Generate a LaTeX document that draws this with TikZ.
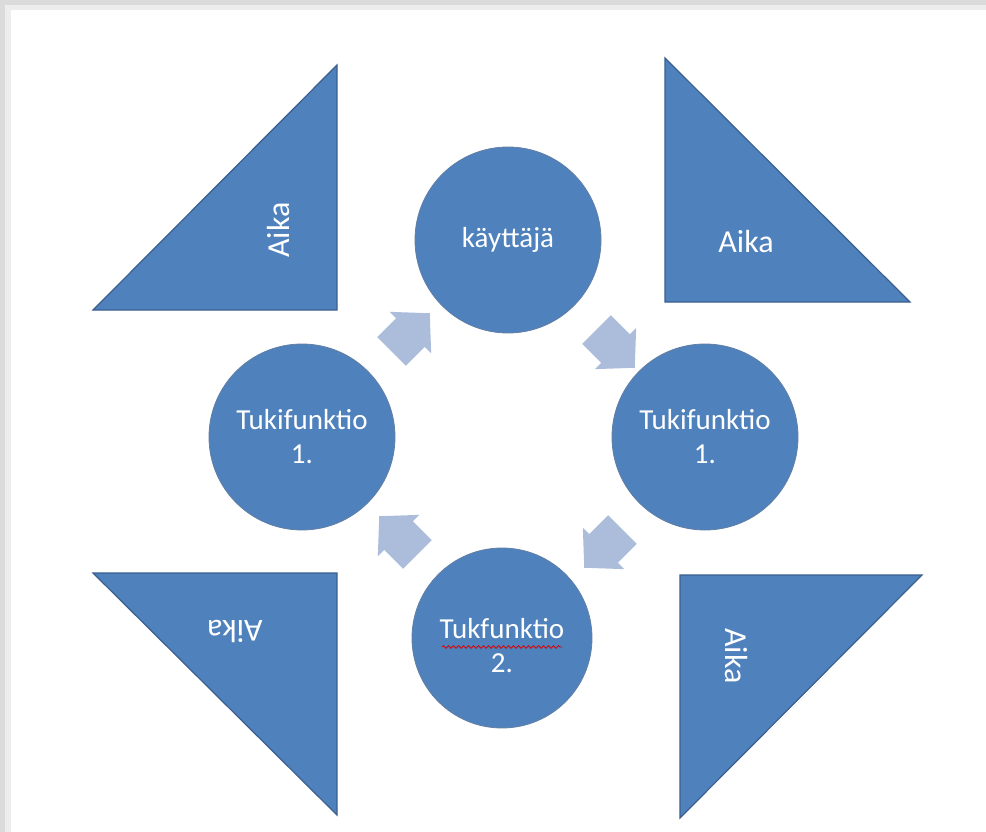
\documentclass[tikz,border=0pt]{standalone}
\usepackage{fontspec}
\setmainfont{Carlito}
\usetikzlibrary{shapes.arrows,decorations.pathmorphing}
\definecolor{cyclefill}{RGB}{79,129,189}
\definecolor{cycleline}{RGB}{58,95,142}
\definecolor{flowfill}{RGB}{172,188,219}
\begin{document}
\begin{tikzpicture}[x=1pt,y=-1pt,
    every node/.style={anchor=center},
    phase/.style={circle, fill=cyclefill, draw=cycleline!80, line width=0.8pt,
        minimum size=186pt, text=white, align=center,
        font=\fontsize{29}{34}\selectfont},
    corner/.style={fill=cyclefill, draw=cycleline, line width=1.2pt, line join=miter},
    cornerlabel/.style={text=white, font=\fontsize{32}{36}\selectfont},
    flow/.style={single arrow, fill=flowfill, draw=none, inner xsep=0pt,
        inner ysep=20pt, single arrow head extend=9pt, minimum height=54pt,
        single arrow tip angle=94}]
        \useasboundingbox (0,0) rectangle (986,832);

        % Page with shadow
        \fill[black!14] (0,0) rectangle (986,832);
        \fill[black!7] (5,5) rectangle (986,832);
        \fill[white] (11,10) rectangle (986,832);

        % Triangles
        \draw[corner] (93,310) -- (337,310) -- (337,65) -- cycle;
        \draw[corner] (665,58) -- (665,302) -- (910,302) -- cycle;
        \draw[corner] (93,573) -- (337,573) -- (337,815) -- cycle;
        \draw[corner] (680,575) -- (922,575) -- (680,818) -- cycle;
        \node[cornerlabel, rotate=90] (t1) at (279,230) {Aika};
        \node[cornerlabel] (t2) at (746,242) {Aika};
        \node[cornerlabel, rotate=180] (t3) at (235,631) {Aika};
        \node[cornerlabel, rotate=-90] (t4) at (736,656) {Aika};

        % Circles
        \node[phase] (c1) at (508,240) {käyttäjä};
        \node[phase] (c2) at (705,437) {Tukifunktio\\1.};
        \node[phase, minimum size=180pt] (c3) at (502,638) {};
        \node[white, align=center, font=\fontsize{29}{34}\selectfont] (c3text)
            at (502,646) {Tukfunktio\\2.};
        \node[phase] (c4) at (302,437) {Tukifunktio\\1.};

        % Spelling mark
        \coordinate (s1) at (442,647);
        \coordinate (s2) at (562,647);
        \draw[red!85!black, line width=0.8pt, decorate,
            decoration={snake, amplitude=1.3pt, segment length=5pt}] (s1) -- (s2);

        % Arrows
        \node[flow, rotate=45] (a1) at (404,339) {};
        \node[flow, rotate=-45] (a2) at (609,342) {};
        \node[flow, rotate=-135] (a3) at (610,542) {};
        \node[flow, rotate=135] (a4) at (405,542) {};
    \end{tikzpicture}
\end{document}
